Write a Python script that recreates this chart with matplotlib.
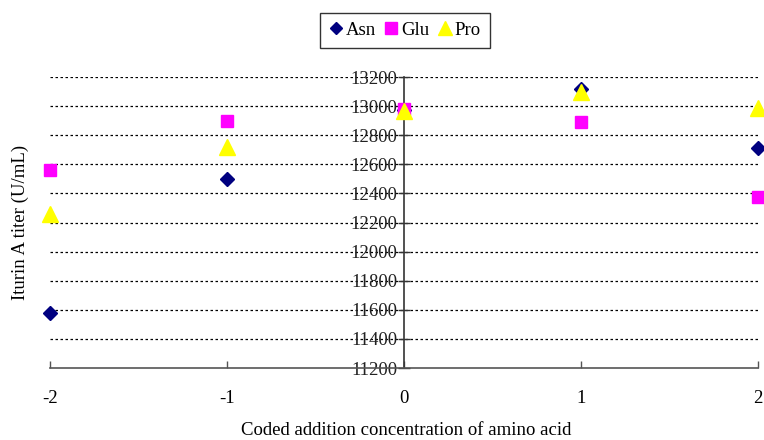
import matplotlib
matplotlib.use("Agg")
import matplotlib.pyplot as plt

x = [-2, -1, 0, 1, 2]
asn = [11575, 12500, 12970, 13115, 12710]
glu = [12560, 12900, 12980, 12890, 12375]
pro = [12255, 12720, 12965, 13100, 12990]
yticks = list(range(11200, 13201, 200))
xticks = [-2, -1, 0, 1, 2]

plt.rcParams['font.family'] = ['Liberation Serif', 'DejaVu Serif']

fig = plt.figure(figsize=(7.64, 4.40), dpi=100)
ax = fig.add_axes([50/764, 1-368/440, 708/764, (368-77)/440])

ax.set_xlim(-2, 2)
ax.set_ylim(11200, 13200)

for v in yticks[1:]:
    ax.axhline(v, color='black', linestyle=(0, (2, 2)), linewidth=0.9, zorder=1)

ax.plot(x, asn, linestyle='none', marker='D', color='#000080', markersize=7,
        label='Asn', clip_on=False, zorder=3)
ax.plot(x, glu, linestyle='none', marker='s', color='#FF00FF', markersize=9,
        label='Glu', clip_on=False, zorder=3)
ax.plot(x, pro, linestyle='none', marker='^', color='#FFFF00', markersize=11,
        label='Pro', clip_on=False, zorder=4)

ax.spines['top'].set_visible(False)
ax.spines['right'].set_visible(False)
ax.spines['left'].set_position(('data', 0))
ax.spines['left'].set_color('#333333')
ax.spines['bottom'].set_color('#555555')
ax.spines['left'].set_linewidth(1.2)
ax.spines['bottom'].set_linewidth(1.2)

ax.set_yticks(yticks)
ax.set_yticklabels([str(v) for v in yticks])
ax.set_xticks(xticks)
ax.set_xticklabels([str(v) for v in xticks])
ax.tick_params(axis='y', direction='inout', length=8, width=1, labelsize=13.5, pad=1,
               colors='#333333', labelcolor='#222222')
ax.tick_params(axis='x', direction='in', length=5, width=1, labelsize=13.5, pad=16,
               colors='#555555', labelcolor='black')

ax.set_xlabel('Coded addition concentration of amino acid', fontsize=13.5)
ax.set_ylabel('Iturin A titer (U/mL)', fontsize=13.5)
ax.yaxis.set_label_coords(29/764, 1-222/440, transform=fig.transFigure)
ax.xaxis.set_label_coords(406/764, 1-422/440, transform=fig.transFigure)

leg = ax.legend(loc='center', bbox_to_anchor=(405/764, 1-30.5/440), bbox_transform=fig.transFigure,
                ncol=3, fontsize=13.5, frameon=True, fancybox=False, edgecolor='black',
                handlelength=0.7, handletextpad=0.2, columnspacing=0.45, borderpad=0.5,
                markerscale=0.9)
leg.get_frame().set_linewidth(1.0)

fig.savefig('out.png', dpi=100)
